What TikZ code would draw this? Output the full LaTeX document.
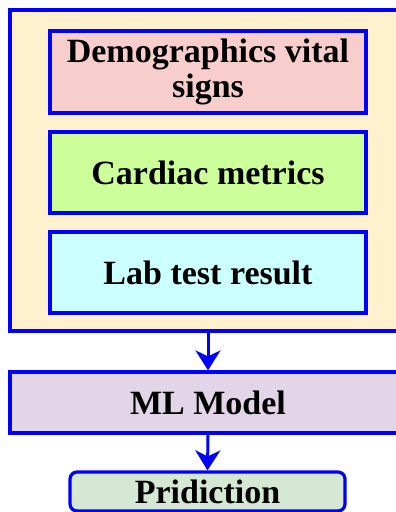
\documentclass[tikz,border=0pt]{standalone}
\usepackage{fontspec}
\setmainfont{Liberation Serif}
\usetikzlibrary{arrows.meta}
\definecolor{strokeblue}{HTML}{0000FF}
\definecolor{outerfill}{HTML}{FFF0CE}
\definecolor{demofill}{HTML}{F8CECC}
\definecolor{cardfill}{HTML}{CCFF99}
\definecolor{labfill}{HTML}{CCFFFF}
\definecolor{mlfill}{HTML}{E1D5E7}
\definecolor{predfill}{HTML}{D5E8D4}
\tikzset{
  box/.style={draw=strokeblue, line width=3.2pt, rectangle, inner sep=0pt,
    align=center, font=\fontsize{34}{35}\selectfont\bfseries, text=black},
  flow/.style={draw=strokeblue, line width=3pt,
    -{Stealth[length=20pt,width=25pt,inset=6pt]}}
}
\begin{document}
\begin{tikzpicture}[x=1pt,y=-1pt]
\useasboundingbox[clip] (0,0) rectangle (396,512);
\fill[white] (0,0) rectangle (396,512);
\node[box, fill=outerfill, minimum width=396pt, minimum height=321pt] (outer) at (208,170.5) {};
\node[box, fill=demofill, minimum width=316pt, minimum height=82pt] (demo) at (208,72) {Demographics vital\\signs};
\node[box, fill=cardfill, minimum width=316pt, minimum height=81pt] (card) at (208,172.5) {Cardiac metrics};
\node[box, fill=labfill, minimum width=316pt, minimum height=81pt] (lab) at (208,272.5) {Lab test result};
\node[box, fill=mlfill, minimum width=396pt, minimum height=61pt] (ml) at (208,402.5) {ML Model};
\node[box, fill=predfill, rounded corners=7pt, minimum width=275pt, minimum height=39pt] (pred) at (207.5,491.5) {Pridiction};
\draw[flow] (outer.south) -- (ml.north);
\draw[flow] (ml.south) -- (pred.north);
\end{tikzpicture}
\end{document}
